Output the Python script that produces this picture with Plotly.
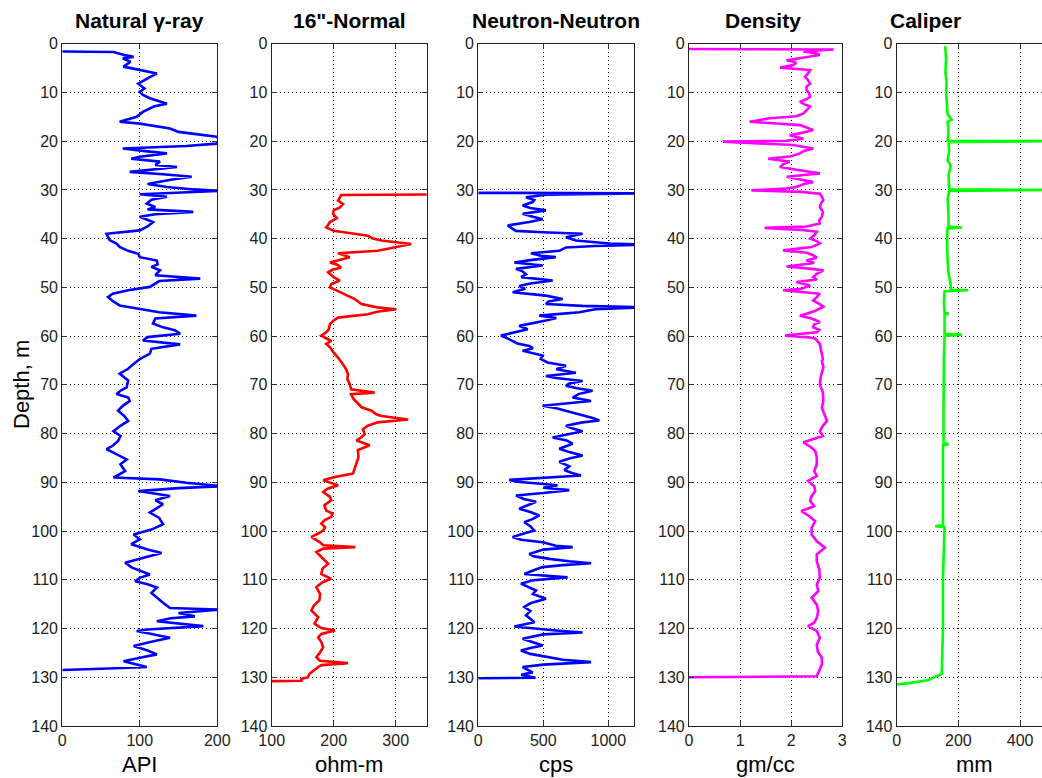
import plotly.graph_objects as go

# ---------------- data ----------------
gamma_depth = [1.6, 1.7, 2.3, 2.7, 3.0, 3.7, 4.7, 6.1, 7.1, 8.2, 9.2, 9.9, 10.5, 11.2, 12.3, 12.9, 14.0, 15.0, 16.0, 16.4,
               17.4, 18.1, 18.4, 19.1, 19.8, 20.5, 21.0, 21.5, 22.1, 22.5, 23.2, 23.6, 24.2, 24.9, 25.3, 25.8, 26.3, 26.8,
               27.3, 27.9, 28.4, 28.8, 29.4, 29.9, 30.2, 30.5, 30.9, 31.4, 32.0, 32.8, 33.5, 34.0, 34.5, 35.0, 35.5, 36.6,
               37.5, 38.3, 39.0, 40.3, 41.0, 41.7, 42.5, 43.1, 43.8, 44.5, 45.3, 45.8, 46.5, 47.5, 48.2, 48.7, 49.3, 49.9,
               50.6, 51.3, 52.0, 52.8, 53.7, 54.4, 55.1, 55.8, 56.4, 57.4, 58.2, 58.8, 59.5, 60.2, 60.9, 61.7, 62.6, 63.6,
               64.7, 65.7, 66.7, 67.7, 69.1, 70.5, 71.2, 71.9, 72.6, 73.3, 74.3, 75.3, 76.4, 77.4, 78.4, 79.5, 80.5, 81.5,
               82.5, 83.2, 84.2, 85.3, 86.3, 87.7, 88.7, 89.0, 89.4, 90.1, 90.8, 91.2, 91.8, 92.8, 93.7, 94.5, 95.5, 96.2,
               97.3, 98.6, 99.7, 100.7, 101.7, 102.7, 103.8, 104.5, 105.5, 106.5, 107.5, 108.9, 109.6, 110.3, 110.9, 111.6,
               112.7, 113.7, 114.7, 115.8, 116.1, 116.8, 117.5, 117.9, 118.5, 119.5, 120.2, 120.5, 121.2, 121.9, 122.7,
               123.6, 124.5, 125.3, 126.0, 126.7, 127.4, 127.9, 128.2, 128.5]
gamma_api = [0, 66, 80, 92, 78, 88, 79, 122, 110, 98, 106, 100, 104, 113, 135, 118, 104, 96, 74, 100,
             139, 150, 165, 199, 205, 199, 160, 78, 110, 135, 100, 89, 126, 120, 148, 120, 87, 130,
             167, 140, 122, 110, 135, 170, 205, 150, 100, 135, 115, 109, 120, 110, 169, 120, 100, 117,
             110, 100, 57, 61, 70, 74, 85, 98, 100, 122, 123, 115, 126, 120, 178, 125, 118, 113,
             85, 65, 59, 65, 74, 100, 125, 173, 120, 117, 130, 145, 152, 110, 104, 152, 115, 113,
             100, 92, 85, 74, 85, 83, 75, 70, 85, 87, 78, 72, 80, 85, 75, 66, 75, 72,
             65, 57, 70, 83, 75, 81, 70, 66, 126, 160, 205, 150, 98, 139, 120, 130, 120, 113,
             125, 130, 115, 92, 100, 89, 110, 128, 105, 81, 90, 113, 100, 94, 110, 122,
             115, 122, 130, 139, 205, 150, 171, 140, 122, 182, 110, 96, 120, 139, 115,
             92, 110, 122, 100, 79, 96, 109, 60, 0]

normal_depth = [30.95, 31.05, 32.2, 32.9, 33.6, 34.2, 34.9, 35.8, 36.6, 37.7, 38.4, 38.7, 39.4, 39.9, 40.4, 41.1, 41.8,
                42.5, 43.0, 43.8, 44.9, 45.3, 45.9, 46.4, 46.9, 47.9, 48.6, 49.3, 50.0, 50.7, 51.4, 52.4, 53.4, 54.1,
                54.5, 55.0, 55.5, 56.2, 56.8, 57.5, 58.6, 59.2, 59.9, 61.0, 61.6, 62.3, 63.4, 64.4, 65.8, 66.8, 67.8,
                68.8, 69.9, 70.9, 71.6, 71.9, 72.9, 73.9, 74.6, 75.3, 76.0, 76.4, 77.1, 77.7, 78.4, 79.1, 80.1, 80.7,
                81.4, 82.4, 83.4, 84.8, 86.2, 87.5, 88.2, 88.9, 89.6, 90.6, 91.3, 92.0, 93.0, 93.7, 94.7, 95.8, 96.4,
                97.1, 97.8, 98.5, 99.2, 99.9, 100.5, 101.2, 102.3, 102.9, 103.3, 103.6, 104.3, 105.3, 106.7, 107.7,
                108.8, 109.8, 110.5, 111.5, 112.9, 114.2, 115.3, 116.3, 117.7, 119.0, 119.9, 120.4, 121.1, 121.8,
                122.8, 123.8, 124.9, 125.9, 126.6, 127.1, 127.5, 127.9, 128.6, 129.3, 130.0, 130.3, 130.7, 130.8]
normal_ohm = [360, 212, 207, 215, 210, 200, 199, 205, 194, 188, 200, 218, 255, 262, 277, 325, 298,
              271, 207, 226, 194, 205, 212, 198, 191, 200, 210, 196, 194, 205, 218, 234, 245, 270,
              301, 270, 255, 207, 200, 194, 192, 188, 180, 196, 188, 194, 200, 207, 215, 220, 223,
              222, 226, 228, 266, 228, 232, 239, 245, 261, 268, 277, 320, 271, 255, 247, 250, 245,
              237, 258, 239, 240, 237, 233, 231, 202, 183, 207, 190, 183, 194, 196, 185, 188, 198,
              196, 185, 180, 186, 183, 175, 164, 178, 183, 235, 183, 172, 180, 191, 182,
              180, 196, 182, 172, 178, 177, 168, 164, 175, 169, 180, 202, 180, 175,
              180, 183, 178, 172, 178, 223, 180, 175, 168, 161, 158, 148, 148, 100]

neutron_depth = [30.6, 30.7, 31.0, 31.5, 32.1, 32.5, 33.2, 33.7, 34.2, 34.9, 35.5, 36.0, 36.6, 37.3, 37.9, 38.4, 38.7,
                 39.0, 39.7, 40.4, 41.0, 41.2, 41.5, 41.8, 42.5, 43.0, 43.5, 43.8, 44.4, 44.9, 45.5, 46.2, 46.7, 47.3,
                 47.9, 48.6, 49.2, 49.7, 50.3, 51.0, 51.7, 52.4, 52.9, 53.4, 53.8, 54.1, 54.5, 55.1, 55.8, 56.3, 56.8,
                 57.4, 57.9, 58.6, 59.2, 59.9, 60.4, 61.0, 61.5, 62.0, 62.5, 63.0, 63.6, 64.0, 64.7, 65.4, 66.1, 66.8,
                 67.5, 68.2, 68.6, 69.2, 69.7, 70.2, 70.7, 71.2, 71.9, 72.6, 73.3, 73.8, 74.3, 74.8, 75.3, 75.9, 76.4,
                 76.8, 77.3, 77.7, 78.4, 78.9, 79.5, 80.1, 80.8, 81.4, 82.1, 83.1, 83.8, 84.5, 85.1, 85.8, 86.7, 87.5,
                 88.1, 88.6, 89.0, 89.5, 89.9, 90.6, 91.1, 91.6, 92.2, 92.7, 93.4, 94.0, 94.7, 95.4, 96.1, 96.8, 97.5,
                 98.2, 99.0, 99.9, 100.5, 101.2, 101.8, 102.3, 103.0, 103.3, 103.8, 104.7, 105.2, 105.7, 106.2, 106.6,
                 107.0, 107.4, 108.1, 108.8, 109.5, 110.1, 110.8, 111.5, 112.2, 112.9, 113.9, 114.8, 115.6, 116.4,
                 117.3, 118.0, 118.7, 119.6, 120.1, 120.4, 120.8, 121.2, 122.1, 122.8, 123.5, 124.0, 124.5, 125.2,
                 125.9, 126.4, 126.9, 127.4, 127.9, 128.5, 129.0, 129.5, 129.9, 130.1, 130.2]
neutron_cps = [0, 1300, 520, 367, 430, 418, 341, 400, 520, 341, 420, 495, 392, 226, 260, 290, 495,
               802, 674, 751, 1008, 1300, 900, 674, 623, 405, 480, 597, 400, 277, 495, 290, 340, 367,
               330, 572, 400, 315, 360, 264, 520, 649, 540, 520, 800, 1300, 900, 777, 469, 600, 520,
               400, 315, 380, 290, 174, 220, 264, 300, 392, 420, 341, 430, 495, 480, 533, 674, 600,
               751, 520, 600, 802, 700, 674, 760, 879, 770, 726, 867, 700, 495, 600, 674, 740, 828,
               880, 931, 800, 674, 720, 802, 700, 572, 680, 726, 623, 700, 802, 700, 623, 700, 662,
               720, 790, 500, 238, 300, 610, 500, 700, 500, 290, 350, 444, 380, 315, 400, 469, 420,
               354, 400, 431, 350, 264, 330, 495, 597, 726, 500, 392, 430, 546, 700, 867,
               650, 495, 420, 354, 687, 420, 328, 380, 444, 420, 520, 400, 354, 400,
               367, 400, 431, 277, 450, 597, 802, 500, 341, 420, 495, 400, 328, 400,
               546, 650, 867, 500, 341, 380, 418, 330, 392, 440, 0]

density_depth = [1.1, 1.2, 1.6, 2.0, 2.3, 2.8, 3.4, 3.7, 4.0, 4.5, 4.9, 5.4, 6.1, 6.8, 7.5, 8.2, 8.8, 9.5, 10.2, 10.9,
                 11.4, 11.9, 12.4, 12.9, 13.6, 14.3, 14.9, 15.3, 16.0, 16.4, 16.7, 17.2, 17.7, 18.3, 18.8, 19.5, 19.9,
                 20.1, 20.5, 20.8, 21.5, 22.0, 22.5, 23.1, 23.6, 24.2, 24.7, 25.3, 26.0, 26.6, 27.0, 27.3, 27.9, 28.4,
                 28.8, 29.4, 29.7, 30.1, 30.4, 30.8, 31.4, 32.1, 32.8, 33.5, 34.5, 35.5, 36.2, 36.9, 37.5, 37.8, 38.2,
                 38.6, 39.3, 40.0, 40.5, 41.0, 41.7, 42.4, 42.9, 43.4, 43.9, 44.5, 45.0, 45.7, 46.2, 46.5, 47.2, 47.9,
                 48.4, 48.9, 49.6, 50.3, 50.6, 51.0, 51.3, 52.0, 52.7, 53.4, 54.0, 54.9, 55.8, 56.4, 57.1, 57.6, 58.2,
                 58.7, 59.2, 59.5, 59.9, 60.2, 60.5, 61.6, 62.6, 63.6, 64.7, 65.1, 66.4, 68.2, 69.9, 71.6, 73.3, 74.7,
                 76.0, 77.4, 78.4, 79.5, 80.5, 81.2, 81.8, 82.9, 83.6, 84.9, 86.3, 87.7, 88.7, 89.7, 90.8, 91.8, 92.8,
                 93.8, 94.9, 95.9, 96.9, 98.0, 99.3, 100.7, 102.1, 103.4, 104.8, 106.2, 107.9, 109.6, 111.0, 112.3,
                 113.7, 115.1, 116.4, 117.8, 118.8, 119.5, 120.5, 121.9, 123.3, 124.7, 126.0, 127.4, 128.4, 129.1,
                 129.8, 130.0]
density_gcc = [0, 2.83, 2.24, 2.5, 2.56, 2.3, 1.91, 2.05, 2.1, 2.0, 1.78, 2.37, 2.33, 2.27, 2.33, 2.37, 2.30, 2.30, 2.35,
               2.37, 2.30, 2.17, 2.25, 2.37, 2.30, 2.24, 2.10, 1.58, 1.19, 1.80, 2.17, 2.30, 2.43, 2.20, 1.97, 2.24,
               1.90, 0.66, 1.50, 2.04, 2.43, 2.25, 2.17, 2.00, 1.55, 1.97, 1.85, 1.78, 2.20, 2.56, 2.20, 1.91, 2.20,
               2.43, 2.25, 2.10, 1.90, 1.22, 2.20, 2.56, 2.60, 2.63, 2.58, 2.56, 2.62, 2.60, 2.55, 2.56, 2.30, 1.48,
               2.20, 2.50, 2.45, 2.37, 2.50, 2.56, 2.40, 1.84, 2.30, 2.43, 2.50, 2.30, 2.45, 1.91, 2.40, 2.63, 2.50,
               2.43, 2.50, 2.10, 2.37, 2.20, 1.84, 2.30, 2.56, 2.50, 2.43, 2.55, 2.63, 2.45, 2.17, 2.40, 2.56, 2.45,
               2.43, 2.55, 2.50, 2.20, 1.88, 2.30, 2.47, 2.56, 2.58, 2.60, 2.62, 2.60, 2.63, 2.58, 2.56, 2.62, 2.63,
               2.60, 2.65, 2.70, 2.62, 2.56, 2.62, 2.43, 2.24, 2.40, 2.47, 2.50, 2.50, 2.45, 2.50, 2.33, 2.45, 2.47,
               2.40, 2.37, 2.45, 2.20, 2.35, 2.47, 2.40, 2.40, 2.50, 2.66, 2.50, 2.50, 2.55, 2.56, 2.50, 2.53, 2.40,
               2.50, 2.53, 2.50, 2.45, 2.33, 2.50, 2.56, 2.50, 2.52, 2.60, 2.60, 2.55, 2.53, 2.50, 0]

caliper_depth = [0.5, 3, 6, 7.8, 10, 12, 14.5, 15.6, 16.0, 18, 19.9, 20.0, 20.2, 22, 24, 25, 27, 29.5, 29.9, 30.0,
                 30.2, 32, 35, 37.5, 37.7, 37.9, 40, 44.5, 47, 49.5, 50.5, 50.6, 50.8, 53, 55.2, 55.4, 55.6, 59.5,
                 59.7, 59.9, 65, 75, 82, 82.2, 82.4, 90, 98.8, 99.0, 99.2, 110, 120, 129.3, 130.6, 131.2, 131.5]
caliper_mm = [157, 160, 158, 162, 160, 163, 165, 178, 165, 168, 165, 480, 168, 170, 165, 175, 168, 170, 172, 480,
              170, 165, 168, 168, 211, 165, 163, 165, 168, 175, 175, 232, 155, 153, 155, 168, 155, 155,
              211, 155, 153, 152, 152, 168, 150, 150, 150, 125, 155, 150, 150, 146, 100, 40, 0]

titles = ["Natural γ-ray", "16\"-Normal", "Neutron-Neutron", "Density", "Caliper"]
units = ["API", "ohm-m", "cps", "gm/cc", "mm"]
x_ranges = [[0, 200], [100, 350], [0, 1200], [0, 3], [0, 471]]
x_ticks = [[0, 100, 200], [100, 200, 300], [0, 500, 1000], [0, 1, 2, 3], [0, 200, 400]]
depth_ticks = list(range(0, 141, 10))
colors = ["#0000FF", "#FF0000", "#0000FF", "#FF00FF", "#00FF00"]
series = [(gamma_api, gamma_depth), (normal_ohm, normal_depth), (neutron_cps, neutron_depth),
          (density_gcc, density_depth), (caliper_mm, caliper_depth)]

# ---------------- layout geometry (pixels) ----------------
W, H = 1042, 778
panel_px = [(62.3, 217.3), (271.7, 426.7), (478.3, 634.3), (689.0, 842.3), (896.7, 1042.0)]
title_cx = [139.8, 349.0, 556.0, 763.0, 925.0]
top_px, bot_px = 43.7, 726.0
ydom = [1 - bot_px / H, 1 - top_px / H]

FONT = "Liberation Sans, Arial, Helvetica, sans-serif"
fig = go.Figure()
layout = dict(width=W, height=H, autosize=False, margin=dict(l=0, r=0, t=0, b=0, autoexpand=False),
              paper_bgcolor="white", plot_bgcolor="white", showlegend=False,
              font=dict(family=FONT, color="#111111"))
annotations = []

for i in range(5):
    n = "" if i == 0 else str(i + 1)
    xs, ys = series[i]
    fig.add_trace(go.Scatter(x=xs, y=ys, mode="lines", xaxis="x" + n, yaxis="y" + n,
                             line=dict(color=colors[i], width=2.6), hoverinfo="skip"))
    x0, x1 = panel_px[i]
    last = i == 4
    layout["xaxis" + n] = dict(
        domain=[x0 / W, min(x1 / W, 1.0)], range=x_ranges[i], anchor="y" + n, automargin=False,
        tickvals=x_ticks[i], ticktext=[str(v) for v in x_ticks[i]],
        showgrid=True, gridcolor="#000000", gridwidth=1, griddash="1px,3px",
        zeroline=False, showline=True, linecolor="#222222", linewidth=1.2, mirror="allticks",
        ticks="inside", ticklen=5, tickcolor="#333333",
        tickfont=dict(size=16, family=FONT, color="#222222"), fixedrange=True)
    layout["yaxis" + n] = dict(
        domain=ydom, range=[140, 0], anchor="x" + n, automargin=False,
        tickvals=depth_ticks, ticktext=[str(v) for v in depth_ticks],
        showgrid=True, gridcolor="#000000", gridwidth=1, griddash="1px,3px",
        zeroline=False, showline=True, linecolor="#222222", linewidth=1.2,
        mirror=False if last else "allticks",
        ticks="inside", ticklen=5, tickcolor="#333333",
        tickfont=dict(size=16, family=FONT, color="#222222"), fixedrange=True)
    cx = (x0 + x1) / 2 if not last else (x0 + x0 + 155) / 2
    annotations.append(dict(text="<b>" + titles[i] + "</b>", x=title_cx[i] / W, y=1 - 20 / H,
                            xref="paper", yref="paper",
                            xanchor="center", yanchor="middle", showarrow=False,
                            font=dict(size=21, family=FONT, color="#000000")))
    annotations.append(dict(text=units[i], x=cx / W,
                            y=1 - 764 / H, xref="paper", yref="paper",
                            xanchor="center", yanchor="middle", showarrow=False,
                            font=dict(size=22, family=FONT, color="#000000")))

annotations.append(dict(text="Depth, m", x=22 / W, y=1 - 385 / H, xref="paper", yref="paper",
                        xanchor="center", yanchor="middle", textangle=-90, showarrow=False,
                        font=dict(size=22, family=FONT, color="#000000")))
layout["annotations"] = annotations
fig.update_layout(**layout)
fig.write_html("out.html", config={"displayModeBar": False},
               post_script="document.body.style.margin='0';document.body.style.overflow='hidden';")
